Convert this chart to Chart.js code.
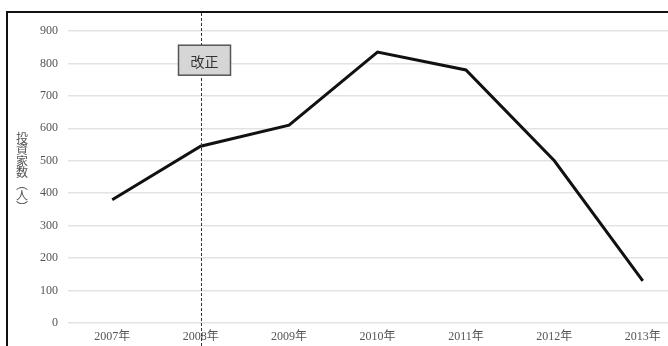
<!DOCTYPE html>
<html>
<head>
<meta charset="utf-8">
<script src="https://cdn.jsdelivr.net/npm/chart.js@4"></script>
<style>
  html, body { margin: 0; padding: 0; background: #fff; overflow: hidden; }
  #wrap { position: absolute; left: 0; top: 0; width: 700px; height: 346px; }
</style>
</head>
<body>
<div id="wrap"><canvas id="line-chart"></canvas></div>
<script>
// 投資家数の推移
const years = ["2007年", "2008年", "2009年", "2010年", "2011年", "2012年", "2013年"];
const investors = [380, 545, 610, 835, 780, 500, 130];
const axisTitle = ["投", "資", "家", "数", "︵", "人", "︶"];
const markYear = "2008年";
const markText = "改正";

const labelFont = "'Liberation Serif', 'Noto Sans CJK JP', serif";

// 外枠・縦書きの軸タイトル・改正の破線と吹き出し
const extras = {
    id: 'extras',
    beforeDraw(chart) {
        const ctx = chart.ctx;
        ctx.save();
        ctx.strokeStyle = '#111';
        ctx.lineWidth = 2;
        ctx.strokeRect(7, 12, 900, 500);
        ctx.fillStyle = '#555';
        ctx.font = "12px 'Noto Sans CJK JP'";
        ctx.textAlign = 'center';
        ctx.textBaseline = 'middle';
        let y = 138;
        axisTitle.forEach(ch => {
            ctx.fillText(ch, 22, y);
            y += 11.5;
        });
        ctx.restore();
    },
    afterDatasetsDraw(chart) {
        const ctx = chart.ctx;
        const x = Math.round(chart.scales.x.getPixelForValue(years.indexOf(markYear))) + 0.5;
        const yc = chart.scales.y.getPixelForValue(810);
        ctx.save();
        ctx.strokeStyle = '#333';
        ctx.lineWidth = 1;
        ctx.setLineDash([3, 2]);
        ctx.beginPath();
        ctx.moveTo(x, 13);
        ctx.lineTo(x, 346);
        ctx.stroke();
        ctx.setLineDash([]);
        const w = 52, h = 30;
        const bx = x - 23, by = yc - h / 2;
        ctx.fillStyle = '#d6d6d6';
        ctx.fillRect(bx, by, w, h);
        ctx.strokeStyle = '#555';
        ctx.lineWidth = 1.5;
        ctx.strokeRect(bx, by, w, h);
        ctx.fillStyle = '#333';
        ctx.font = "14px 'Noto Sans CJK JP'";
        ctx.textAlign = 'center';
        ctx.textBaseline = 'middle';
        ctx.fillText(markText, bx + w / 2, yc + 1);
        ctx.restore();
    }
};

new Chart(document.getElementById("line-chart"), {
    type: 'line',
    data: {
        labels: years,
        datasets: [{
            data: investors,
            borderColor: "#111",
            borderWidth: 3,
            pointRadius: 0,
            tension: 0,
            fill: false
        }]
    },
    options: {
        responsive: true,
        maintainAspectRatio: false,
        animation: false,
        layout: { padding: { top: 31, right: 13, left: 0, bottom: 0 } },
        plugins: {
            legend: { display: false },
            tooltip: { enabled: false }
        },
        scales: {
            x: {
                offset: true,
                grid: { display: false, drawTicks: false },
                border: { display: false },
                ticks: { color: '#555', font: { family: labelFont, size: 12 }, padding: 7 },
                afterFit(scale) { scale.height = 23; }
            },
            y: {
                min: 0,
                max: 900,
                grid: { color: '#e3e3e3', lineWidth: 1.5, drawTicks: false },
                border: { display: false },
                ticks: { stepSize: 100, color: '#555', font: { family: labelFont, size: 12 }, padding: 10 },
                afterFit(scale) { scale.width = 68; }
            }
        }
    },
    plugins: [extras]
});
</script>
</body>
</html>
